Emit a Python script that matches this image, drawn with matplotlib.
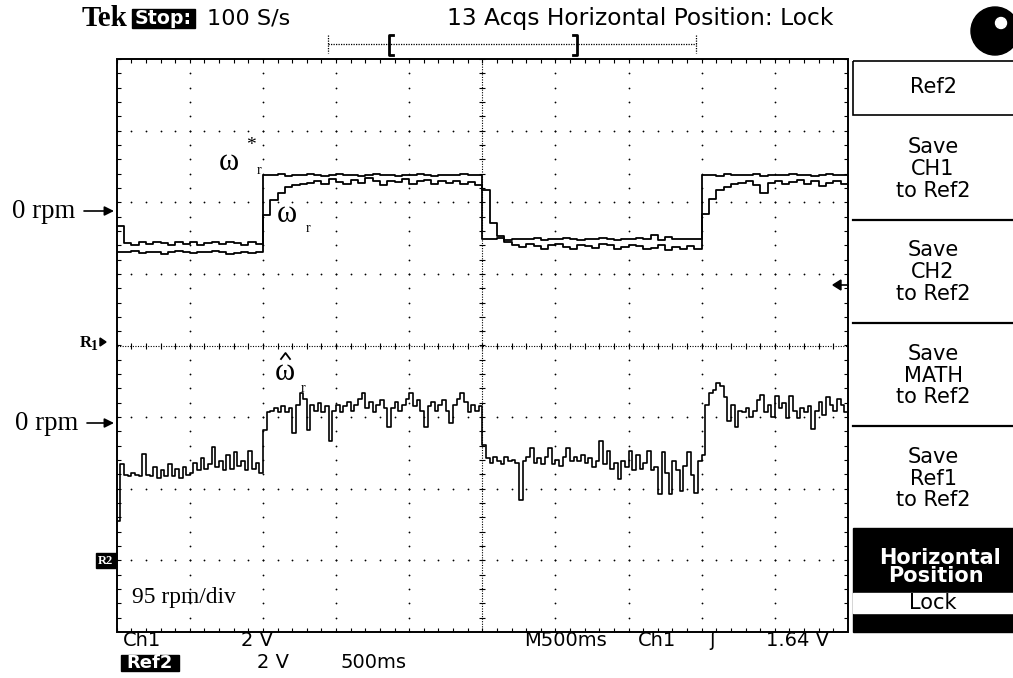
import numpy as np
import matplotlib
matplotlib.use("Agg")
import matplotlib.pyplot as plt
from matplotlib.patches import Rectangle, Circle, Polygon

# ---- acquisition: 500 ms/div, 10 divisions, 95 rpm/div ----
sample_dt = 0.05        # s, CH1 / CH2 traces
sample_dt_est = 0.025   # s, Ref2 trace
rpm_per_div = 95.0
upper_zero_div = 1.87   # position of the upper "0 rpm" marker (divisions)
lower_zero_div = -1.09  # position of the lower "0 rpm" marker (divisions)

# speed command  (rpm)
omega_ref = [
    -53, -54, -52, -55, -53, -54, -56, -53, -52, -54, -55, -53, -54, -52, -53, -56, -55, -54, -55, -53,
    49, 48, 50, 47, 49, 48, 50, 49, 47, 48, 50, 49, 48, 47, 49, 50, 48, 49, 47, 48, 49, 50, 48, 47, 49,
    48, 49, 50, 49, 49,
    -36, -37, -35, -38, -36, -37, -36, -35, -38, -37, -36, -35, -37, -38, -36, -37, -35, -36, -38, -37,
    -36, -35, -37, -31, -38, -34, -36, -37, -36, -37,
    48, 49, 47, 50, 48, 49, 48, 50, 47, 49, 48, 49, 50, 48, 49, 47, 48, 50, 49, 48, 49,
]

# measured speed  (rpm)
omega_meas = [
    -19, -42, -44, -41, -43, -40, -42, -45, -41, -43, -40, -44, -42, -41, -43, -40, -42, -44, -41, -43,
    -5, 15, 25, 32, 35, 37, 38, 41, 37, 43, 39, 36, 42, 38, 44, 40, 35, 41, 39, 43, 37, 40, 42, 36, 41,
    38, 40, 37, 39, 35,
    28, -15, -32, -40, -44, -47, -43, -46, -49, -45, -43, -47, -50, -44, -46, -48, -43, -45, -49, -47,
    -44, -46, -50, -48, -45, -51, -47, -49, -46, -50,
    -3, 17, 28, 33, 37, 38, 40, 35, 25, 38, 41, 36, 39, 42, 37, 40, 34, 38, 41, 37, 39,
]

# estimated speed  (rpm)
omega_est = [
    -129, -53, -68, -69, -66, -68, -70, -40, -68, -70, -57, -72, -62, -70, -53, -69, -60, -72, -57, -68,
    -65, -52, -62, -46, -60, -54, -31, -57, -49, -62, -42, -60, -38, -56, -49, -62, -36, -60, -52, -66,
    -9, 15, 17, 20, 16, 23, 15, 20, -12, 25, 40, 33, -9, 24, 17, 27, 15, 23, -23, 17,
    25, 15, 23, 28, 17, 25, 33, 40, 20, 28, 15, 24, 31, 20, -4, 20, 28, 17, 25, 33,
    40, 23, 31, 17, -4, 23, 28, 17, 25, 31, 17, 1, 25, 33, 40, 28, 15, 24, 17, 23,
    -29, -46, -52, -44, -49, -53, -45, -50, -48, -52, -102, -49, -44, -33, -52, -46, -54, -45, -33, -53,
    -48, -56, -44, -33, -50, -45, -49, -42, -52, -46, -57, -49, -23, -54, -36, -60, -52, -73, -49, -57,
    -37, -62, -42, -60, -52, -36, -62, -57, -93, -38, -65, -93, -49, -62, -90, -56, -38, -68, -92, -49,
    -42,
    24, 40, 44, 54, 50, 35, 4, 24, -4, 17, 15, 20, 9, 17, 31, 38, 15, 24, 9, 37,
    20, 27, 7, 37, 17, 7, 20, 15, 23, -7, 17, 28, 12, 35, 25, 17, 33, 24, 15, 7,
]

W, H = 1013, 678
fig = plt.figure(figsize=(W / 100, H / 100), dpi=100)
fig.patch.set_facecolor("white")

gx0, gx1, gy0, gy1 = 116.7, 848.0, 59.0, 632.0
ax = fig.add_axes([gx0 / W, 1 - gy1 / H, (gx1 - gx0) / W, (gy1 - gy0) / H])
ax.set_xlim(0, 5)
ax.set_ylim(-4, 4)
ax.axis("off")

px_x = 5 / (gx1 - gx0)
px_y = 8 / (gy1 - gy0)
ink = "black"

# ---- graticule ----
xs_minor = np.arange(0, 5.0001, 0.1)
ys_minor = np.arange(-4, 4.0001, 0.2)
for k in range(1, 10):
    if k == 5:
        continue
    ax.plot(np.full_like(ys_minor, k * 0.5), ys_minor, ls="none", marker="o",
            ms=1.3, mec="none", mfc=ink)
for j in range(-3, 4):
    if j == 0:
        continue
    ax.plot(xs_minor, np.full_like(xs_minor, j), ls="none", marker="o",
            ms=1.3, mec="none", mfc=ink)

# centre cross with ticks
ax.plot([0, 5], [0, 0], color=ink, lw=0.8, ls=(0, (1, 1.3)))
ax.plot([2.5, 2.5], [-4, 4], color=ink, lw=0.8, ls=(0, (1, 1.3)))
ax.vlines(xs_minor, -3 * px_y, 3 * px_y, color=ink, lw=0.8)
ax.hlines(ys_minor, 2.5 - 3 * px_x, 2.5 + 3 * px_x, color=ink, lw=0.8)

# frame with inward ticks
ax.add_patch(Rectangle((0, -4), 5, 8, fill=False, ec=ink, lw=1.4, clip_on=False))
ax.vlines(xs_minor, 4 - 4 * px_y, 4, color=ink, lw=0.8)
ax.vlines(xs_minor, -4, -4 + 4 * px_y, color=ink, lw=0.8)
ax.hlines(ys_minor, 0, 4 * px_x, color=ink, lw=0.8)
ax.hlines(ys_minor, 5 - 4 * px_x, 5, color=ink, lw=0.8)

# ---- traces ----
t_up = np.arange(len(omega_ref)) * sample_dt
t_est = np.arange(len(omega_est)) * sample_dt_est
ax.plot(t_up, upper_zero_div + np.array(omega_ref) / rpm_per_div,
        drawstyle="steps-post", color=ink, lw=1.3, zorder=5)
ax.plot(t_up, upper_zero_div + np.array(omega_meas) / rpm_per_div,
        drawstyle="steps-post", color=ink, lw=1.3, zorder=5)
ax.plot(t_est, lower_zero_div + np.array(omega_est) / rpm_per_div,
        drawstyle="steps-post", color=ink, lw=1.2, zorder=5)

# ---- screen annotations (pixel coordinates) ----
ov = fig.add_axes([0, 0, 1, 1])
ov.set_xlim(0, W)
ov.set_ylim(H, 0)
ov.axis("off")
renderer = fig.canvas.get_renderer()


def fit_text(x, y, s, width, size0=12, **kw):
    t = ov.text(x, y, s, fontsize=size0, **kw)
    w = t.get_window_extent(renderer).width
    t.set_fontsize(size0 * width / w)
    return t


SANS = "DejaVu Sans"
SERIF = "Liberation Serif"

# header
fit_text(82, 18, "Tek", 46, family=SERIF, weight="bold", va="center")
ov.add_patch(Rectangle((132, 9), 63, 19, color=ink))
fit_text(135, 18.5, "Stop:", 57, family=SANS, weight="bold", color="white", va="center")
fit_text(207, 18, "100 S/s", 83, family=SANS, va="center")
fit_text(447, 18, "13 Acqs Horizontal Position: Lock", 386, family=SANS, va="center")
ov.add_patch(Circle((995, 31), 24, color=ink, clip_on=False))
ov.add_patch(Circle((1001, 23), 5.5, color="white"))

# record view bar
ov.plot([328, 696], [44, 44], color=ink, lw=0.9, ls=(0, (1, 1)))
for xe in (328, 696):
    ov.plot([xe, xe], [35, 53], color=ink, lw=0.9, ls=(0, (1, 1)))
ov.plot([393, 389, 389, 393], [35, 35, 55, 55], color=ink, lw=2)
ov.plot([573, 577, 577, 573], [35, 35, 55, 55], color=ink, lw=2)

# side menu
ov.add_patch(Rectangle((853, 61), 165, 54, fill=False, ec=ink, lw=1.2, clip_on=False))
for ys in (220, 323, 426):
    ov.plot([853, 1013], [ys, ys], color=ink, lw=1.6)
t = fit_text(933, 87, "Ref2", 47, family=SANS, ha="center", va="center")
menu_size = t.get_fontsize()
menu_rows = [
    (147, 169, 191, "Save", "CH1", "to Ref2"),
    (250, 272, 294, "Save", "CH2", "to Ref2"),
    (354, 376, 397, "Save", "MATH", "to Ref2"),
    (457, 479, 500, "Save", "Ref1", "to Ref2"),
]
for y1, y2, y3, a, b, c in menu_rows:
    for yy, s in ((y1, a), (y2, b), (y3, c)):
        ov.text(933, yy, s, family=SANS, fontsize=menu_size, ha="center", va="center")
ov.add_patch(Rectangle((853, 528), 165, 104, color=ink, clip_on=False))
ov.add_patch(Rectangle((853, 593), 165, 20, color="white", clip_on=False))
ov.text(940, 558, "Horizontal", family=SANS, weight="bold", fontsize=menu_size,
        color="white", ha="center", va="center")
ov.text(936, 576, "Position", family=SANS, weight="bold", fontsize=menu_size,
        color="white", ha="center", va="center")
ov.text(933, 603, "Lock", family=SANS, fontsize=menu_size, ha="center", va="center")

# trigger level marker
ov.add_patch(Polygon([[833, 285], [841, 280], [841, 290]], closed=True, color=ink))
ov.plot([841, 848], [285, 285], color=ink, lw=1.2)

# channel ground markers
for y0, x0 in ((211, 12), (423, 15)):
    fit_text(x0, y0, "0 rpm", 63, family=SERIF, va="center")
    ov.annotate("", xy=(114, y0), xytext=(x0 + 72, y0),
                arrowprops=dict(arrowstyle="-|>", color=ink, lw=1.2,
                                mutation_scale=14, shrinkA=0, shrinkB=0))
ov.text(80, 343, "R", family=SERIF, weight="bold", fontsize=12, va="center")
ov.text(91, 347, "1", family=SERIF, weight="bold", fontsize=10, va="center")
ov.add_patch(Polygon([[100, 338], [106, 342], [100, 346]], closed=True, color=ink))
ov.add_patch(Rectangle((96, 553), 20, 15, color=ink))
ov.text(105, 560.5, "R2", family=SERIF, weight="bold", fontsize=9, color="white",
        ha="center", va="center")
fit_text(132, 598, "95 rpm/div", 104, family=SERIF, va="center")

# trace labels
ov.text(229, 163, "\u03c9", family=SERIF, fontsize=22, ha="center", va="center")
ov.text(251, 145, "*", family=SERIF, fontsize=14, ha="center", va="center")
ov.text(259, 171, "r", family=SERIF, fontsize=10, ha="center", va="center")
ov.text(287, 214, "\u03c9", family=SERIF, fontsize=22, ha="center", va="center")
ov.text(308, 229, "r", family=SERIF, fontsize=10, ha="center", va="center")
ov.text(285, 373, "\u03c9", family=SERIF, fontsize=22, ha="center", va="center")
ov.plot([281, 285.5, 290], [359, 353, 359], color=ink, lw=1.3)   # estimate hat
ov.text(303, 388, "r", family=SERIF, fontsize=10, ha="center", va="center")

# status lines
status_size = 14
for x, s in ((123, "Ch1"), (241, "2 V"), (524, "M500ms"), (638, "Ch1"), (766, "1.64 V")):
    ov.text(x, 640, s, family=SANS, fontsize=status_size, va="center")
ov.text(713, 640, "\u0283", family=SANS, fontsize=status_size, ha="center", va="center")
ov.add_patch(Rectangle((121, 655), 58, 16, color=ink))
ov.text(150, 663, "Ref2", family=SANS, weight="bold", fontsize=13, color="white",
        ha="center", va="center")
ov.text(257, 663, "2 V", family=SANS, fontsize=status_size, va="center")
ov.text(340, 663, "500ms", family=SANS, fontsize=status_size, va="center")

fig.savefig("out.png", dpi=100, facecolor="white")
